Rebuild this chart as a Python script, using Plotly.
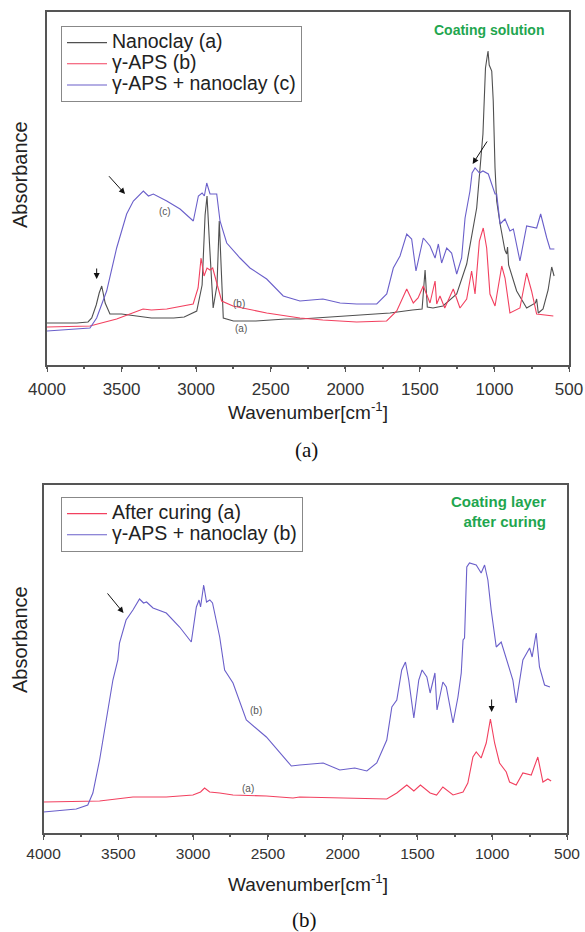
import plotly.graph_objects as go

# ---------------- Panel (a): coating solution ----------------
nano_w = [4000, 3800, 3725, 3700, 3670, 3650, 3633, 3610, 3578, 3500, 3400, 3300, 3150, 3080, 2996,
          2960, 2940, 2927, 2910, 2886, 2860, 2845, 2830, 2818, 2750, 2600, 2400, 2300, 2000, 1700,
          1550, 1485, 1465, 1450, 1412, 1345, 1253, 1186, 1119, 1077, 1060, 1043, 1035, 1018, 1008,
          996, 985, 962, 930, 918, 912, 905, 851, 784, 725, 717, 706, 674, 640, 616, 600]
nano_a = [42, 42, 43, 47, 60, 72, 79, 62, 51, 51, 49, 47, 47, 48, 54,
          80, 150, 169, 120, 57, 80, 144, 90, 47, 44, 44, 46, 46, 49, 52,
          55, 56, 95, 58, 57, 59, 71, 101, 157, 231, 297, 314, 300, 294, 264,
          197, 164, 141, 115, 111, 118, 100, 74, 57, 62, 66, 52, 56, 75, 98, 89]

aps_w = [4000, 3712, 3533, 3356, 3300, 3197, 3020, 2987, 2967, 2947, 2927, 2907, 2889, 2867, 2829,
         2753, 2527, 2304, 2150, 1924, 1723, 1655, 1588, 1544, 1512, 1477, 1432, 1398, 1387, 1365,
         1333, 1276, 1231, 1186, 1153, 1130, 1101, 1075, 1052, 1030, 996, 951, 929, 896, 829,
         784, 751, 717, 605]
aps_a = [38, 39, 46, 56, 55, 56, 61, 77, 107, 89, 97, 95, 97, 84, 64,
         59, 52, 47, 45, 43, 44, 54, 76, 62, 67, 79, 62, 84, 61, 69,
         57, 76, 57, 66, 94, 71, 124, 137, 117, 71, 59, 99, 87, 52, 57,
         92, 74, 51, 49]

mix_w = [4000, 3712, 3667, 3600, 3533, 3466, 3421, 3354, 3320, 3287, 3197, 3108, 3019, 2985, 2960,
         2945, 2929, 2907, 2862, 2840, 2795, 2706, 2639, 2527, 2416, 2304, 2150, 2035, 1924, 1789,
         1722, 1678, 1633, 1588, 1555, 1526, 1477, 1432, 1398, 1376, 1354, 1320, 1287, 1253, 1220,
         1197, 1164, 1150, 1130, 1100, 1077, 1041, 996, 985, 962, 929, 896, 873, 829, 784,
         717, 690, 649, 627, 598]
mix_a = [34, 37, 47, 74, 117, 151, 164, 174, 169, 171, 164, 156, 144, 169, 172,
         169, 182, 171, 171, 144, 122, 107, 97, 86, 69, 64, 66, 62, 61, 61,
         71, 97, 109, 131, 126, 94, 127, 119, 107, 121, 102, 117, 112, 91, 107,
         147, 174, 192, 197, 192, 194, 191, 171, 171, 141, 146, 134, 136, 104, 139,
         137, 151, 127, 116, 116]

# ---------------- Panel (b): coating layer after curing ----------------
cur_w = [4000, 3625, 3402, 3179, 3001, 2950, 2923, 2889, 2822, 2733, 2510, 2332, 2287, 2019, 1705,
         1638, 1571, 1524, 1480, 1415, 1372, 1330, 1262, 1195, 1163, 1129, 1107, 1074, 1040, 1012,
         984, 951, 906, 884, 840, 795, 739, 695, 661, 628, 606]
cur_a = [31, 32, 36, 36, 38, 41, 45, 41, 40, 38, 37, 35, 36, 35, 34,
         40, 48, 42, 48, 40, 38, 46, 38, 41, 50, 76, 81, 75, 90, 114,
         90, 70, 61, 51, 48, 60, 58, 76, 51, 54, 52]

mix2_w = [4000, 3781, 3704, 3670, 3625, 3580, 3536, 3503, 3492, 3448, 3402, 3358, 3331, 3311, 3268,
          3179, 3090, 3012, 2978, 2960, 2950, 2929, 2910, 2888, 2870, 2822, 2789, 2733, 2644, 2510,
          2399, 2343, 2287, 2130, 2019, 1919, 1838, 1772, 1705, 1671, 1638, 1605, 1580, 1558, 1524,
          1491, 1469, 1437, 1415, 1383, 1369, 1330, 1307, 1262, 1229, 1207, 1195, 1185, 1170, 1152,
          1107, 1074, 1051, 1029, 1007, 973, 940, 911, 884, 862, 840, 817, 795, 750, 733,
          706, 684, 650, 614]
mix2_a = [21, 24, 28, 40, 73, 113, 153, 173, 190, 213, 223, 234, 230, 231, 225,
          220, 206, 191, 226, 233, 226, 248, 231, 233, 230, 196, 163, 150, 113, 96,
          76, 67, 68, 70, 63, 65, 62, 70, 93, 126, 133, 163, 171, 153, 115,
          153, 163, 156, 140, 160, 123, 151, 146, 110, 136, 160, 193, 195, 266, 270,
          268, 260, 268, 253, 223, 186, 191, 176, 163, 153, 130, 150, 173, 185, 176,
          200, 166, 148, 146]

x_ticks = [4000, 3500, 3000, 2500, 2000, 1500, 1000, 500]

GRAY = "#505050"
RED = "#f2405f"
BLUE = "#6a5fca"
GREEN = "#1fa64f"
FONT = "Liberation Sans, Arial, sans-serif"

W, H = 585, 932


def px(x):
    return x / W


def py(y):
    return 1 - y / H


def big(t):
    # legend rows are packed tightly in the original: small legend font for
    # row spacing, larger span font for the glyphs
    return '<span style="font-size:19.5px">' + t + '</span>'


fig = go.Figure()
fig.add_trace(go.Scatter(x=nano_w, y=nano_a, mode="lines", name=big("Nanoclay (a)"),
                         line=dict(color=GRAY, width=1.1), xaxis="x", yaxis="y", legend="legend"))
fig.add_trace(go.Scatter(x=aps_w, y=aps_a, mode="lines", name=big("\u03b3-APS (b)"),
                         line=dict(color=RED, width=1.1), xaxis="x", yaxis="y", legend="legend"))
fig.add_trace(go.Scatter(x=mix_w, y=mix_a, mode="lines", name=big("\u03b3-APS + nanoclay (c)"),
                         line=dict(color=BLUE, width=1.1), xaxis="x", yaxis="y", legend="legend"))
fig.add_trace(go.Scatter(x=cur_w, y=cur_a, mode="lines", name=big("After curing (a)"),
                         line=dict(color=RED, width=1.1), xaxis="x2", yaxis="y2", legend="legend2"))
fig.add_trace(go.Scatter(x=mix2_w, y=mix2_a, mode="lines", name=big("\u03b3-APS + nanoclay (b)"),
                         line=dict(color=BLUE, width=1.1), xaxis="x2", yaxis="y2", legend="legend2"))

xcommon = dict(range=[4000, 500], tickvals=x_ticks, ticktext=[str(t) for t in x_ticks],
               showline=True, linecolor="#555", linewidth=1.5, mirror=True,
               ticks="outside", ticklen=5, tickwidth=1.2, tickcolor="#555",
               minor=dict(dtick=250, ticks="outside", ticklen=2, tickwidth=1.5, tickcolor="#555"),
               showgrid=False, zeroline=False, color="#333", automargin=False)
ycommon = dict(showline=True, linecolor="#555", linewidth=1.5, mirror=True,
               showticklabels=False, ticks="", showgrid=False, zeroline=False, automargin=False)

legend_common = dict(xanchor="left", yanchor="top", bordercolor="#888", borderwidth=1,
                     bgcolor="rgba(255,255,255,0)", itemwidth=40,
                     font=dict(size=14, family=FONT, color="#222"), tracegroupgap=0)

fig.update_layout(
    width=W, height=H, margin=dict(l=0, r=0, t=0, b=0, pad=0, autoexpand=False),
    paper_bgcolor="white", plot_bgcolor="white",
    font=dict(family=FONT, color="#222"),
    xaxis=dict(domain=[px(47), px(569)], anchor="y", ticklabelstandoff=3,
               tickfont=dict(size=17, family=FONT, color="#333"), **xcommon),
    yaxis=dict(domain=[py(365), py(12)], anchor="x", range=[0, 353], **ycommon),
    xaxis2=dict(domain=[px(43.5), px(567)], anchor="y2", ticklabelstandoff=1,
                tickfont=dict(size=15.5, family=FONT, color="#333"), **xcommon),
    yaxis2=dict(domain=[py(833), py(485)], anchor="x2", range=[0, 348], **ycommon),
    legend=dict(x=px(61), y=py(26), **legend_common),
    legend2=dict(x=px(61), y=py(497), **legend_common),
    showlegend=True,
)

ann = []
# axis titles
for yy in (175, 640):
    ann.append(dict(text="Absorbance", x=px(20), y=py(yy), xref="paper", yref="paper",
                    xanchor="center", yanchor="middle",
                    textangle=-90, showarrow=False, font=dict(size=20, family=FONT, color="#222")))
for yy in (411, 883):
    ann.append(dict(text="Wavenumber[cm<sup>-1</sup>]", x=px(308), y=py(yy), xref="paper", yref="paper",
                    xanchor="center", yanchor="middle",
                    showarrow=False, font=dict(size=19, family=FONT, color="#222")))
# captions
ann.append(dict(text="(a)", x=px(306), y=py(450), xref="paper", yref="paper", showarrow=False,
                xanchor="center", yanchor="middle",
                font=dict(size=21, family="Liberation Serif, Times New Roman, serif", color="#111")))
ann.append(dict(text="(b)", x=px(304), y=py(920), xref="paper", yref="paper", showarrow=False,
                xanchor="center", yanchor="middle",
                font=dict(size=21, family="Liberation Serif, Times New Roman, serif", color="#111")))
# green notes
ann.append(dict(text="<b>Coating solution</b>", x=px(546), y=py(30), xref="paper", yref="paper",
                xanchor="right", yanchor="middle", showarrow=False, font=dict(size=14, family=FONT, color=GREEN)))
ann.append(dict(text="<b>Coating layer<br>after curing</b>", x=px(548), y=py(511), xref="paper", yref="paper",
                xanchor="right", yanchor="middle", align="right", showarrow=False,
                font=dict(size=15, family=FONT, color=GREEN)))

# curve labels
small = dict(size=10, family=FONT, color="#555")
for (xx, yy, t, xr, yr) in [(3209, 154, "(c)", "x", "y"), (2713, 62, "(b)", "x", "y"), (2701, 37, "(a)", "x", "y"),
                            (2577, 123, "(b)", "x2", "y2"), (2635, 45, "(a)", "x2", "y2")]:
    ann.append(dict(text=t, x=xx, y=yy, xref=xr, yref=yr, showarrow=False, font=small))

# arrows
for (xx, yy, axv, ayv, xr, yr) in [(3477, 171, -18, -20, "x", "y"), (3667, 86, 0, -13, "x", "y"),
                                   (1146, 201, 16, -25, "x", "y"),
                                   (3465, 220, -18, -22, "x2", "y2"), (1004, 121, 0, -15, "x2", "y2")]:
    ann.append(dict(text=" ", x=xx, y=yy, xref=xr, yref=yr, ax=axv, ay=ayv, showarrow=True,
                    arrowhead=2, arrowsize=1.2, arrowwidth=1, arrowcolor="#111", font=dict(size=2)))

fig.update_layout(annotations=ann)
fig.write_html("out.html", config={"displayModeBar": False},
               post_script="document.body.style.margin='0px';")
